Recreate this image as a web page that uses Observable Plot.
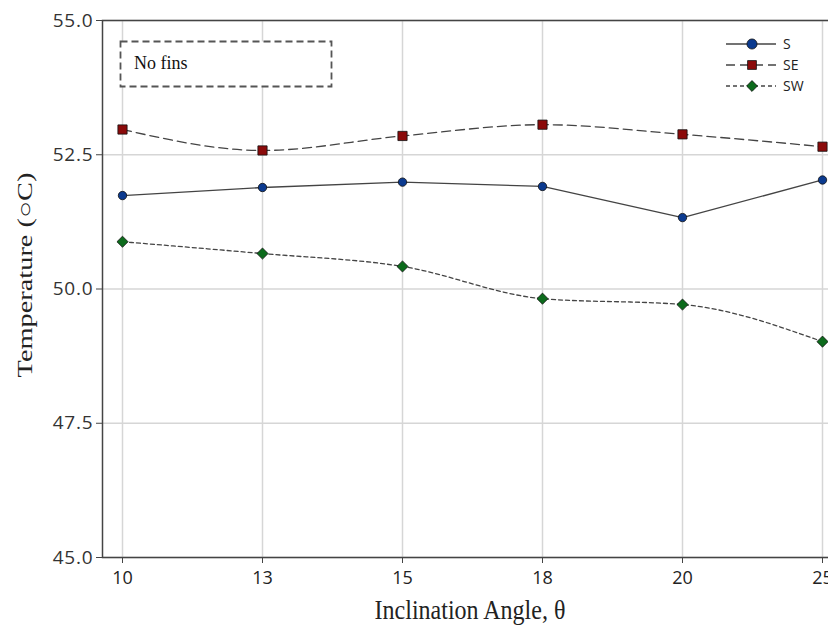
<!DOCTYPE html>
<html>
<head>
<meta charset="utf-8">
<script src="https://cdn.jsdelivr.net/npm/d3@7"></script>
<script src="https://cdn.jsdelivr.net/npm/@observablehq/plot@0.6"></script>
<style>
  body { margin: 0; background: #fff; }
  #wrap { position: relative; width: 828px; height: 630px; overflow: hidden; }
  .ttl { position: absolute; font-family: "Liberation Serif", "DejaVu Serif", serif; color: #222; white-space: nowrap; }
  #nofins { position: absolute; left: 119px; top: 40px; }
  #legend { position: absolute; left: 724px; top: 33px; font-family: "Open Sans", sans-serif; font-size: 14px; color: #222; }
  #legend .row { display: flex; align-items: center; height: 21px; }
  #legend svg { margin-right: 5px; }
  g[aria-label="y-axis tick label"] text { letter-spacing: 0.8px; }
</style>
</head>
<body>
<div id="wrap"></div>
<script>
const angles = ["10", "13", "15", "18", "20", "25"];
const seriesNames = ["S", "SE", "SW"];
const sValues  = [51.74, 51.89, 51.99, 51.91, 51.33, 52.03];
const seValues = [52.97, 52.58, 52.85, 53.06, 52.88, 52.65];
const swValues = [50.88, 50.66, 50.42, 49.82, 49.71, 49.02];
const yTicks = [45, 47.5, 50, 52.5, 55];

const styles = {
  S:  {symbol: "circle",   fill: "#0b3a8f", r: 4.2, dash: null,  curve: "linear"},
  SE: {symbol: "square",   fill: "#8b0a0a", r: 5.2, dash: "9,5", curve: "monotone-x"},
  SW: {symbol: "diamond2", fill: "#0c6b1c", r: 5.0, dash: "4,3", curve: "monotone-x"}
};

const valuesBy = {S: sValues, SE: seValues, SW: swValues};
const data = seriesNames.flatMap(s => angles.map((a, i) => ({series: s, angle: a, value: valuesBy[s][i]})));

const marks = [
  Plot.gridX(angles, {stroke: "#d6d6d6", strokeOpacity: 1, strokeWidth: 1.5}),
  Plot.gridY(yTicks, {stroke: "#d6d6d6", strokeOpacity: 1, strokeWidth: 1.5}),
  Plot.frame({stroke: "#444", strokeWidth: 1.5})
];
for (const s of seriesNames) {
  const st = styles[s];
  const d = data.filter(r => r.series === s);
  marks.push(Plot.line(d, {x: "angle", y: "value", stroke: "#444", strokeWidth: 1.3, curve: st.curve, strokeDasharray: st.dash}));
  marks.push(Plot.dot(d, {x: "angle", y: "value", symbol: () => st.symbol, fill: st.fill, stroke: "#111", strokeWidth: 0.8, r: st.r}));
}
marks.push(Plot.axisY(yTicks, {tickFormat: d3.format(".1f"), tickSize: 6, tickPadding: 3, stroke: "#444", fill: "#333", label: null, fontSize: 19, fontFamily: "Open Sans, sans-serif"}));
marks.push(Plot.axisX(angles, {tickSize: 6, tickPadding: 8, stroke: "#444", fill: "#222", label: null, fontSize: 18, fontFamily: "Open Sans, sans-serif"}));

const chart = Plot.plot({
  width: 828,
  height: 630,
  marginLeft: 102,
  marginTop: 20,
  marginBottom: 73,
  marginRight: -4,
  x: {type: "point", domain: angles, range: [120, 823], padding: 0},
  y: {domain: [45, 55], range: [557, 20]},
  symbol: {type: "identity"},
  style: {background: "#fff", overflow: "hidden"},
  marks
});

const wrap = document.getElementById("wrap");
wrap.appendChild(chart);

const yt = document.createElement("div");
yt.className = "ttl";
yt.textContent = "Temperature (○C)";
yt.style.fontSize = "21px";
yt.style.left = "25px";
yt.style.top = "275px";
yt.style.transform = "translate(-50%, -50%) rotate(-90deg) scaleX(1.35)";
wrap.appendChild(yt);

const xt = document.createElement("div");
xt.className = "ttl";
xt.textContent = "Inclination Angle, θ";
xt.style.fontSize = "24px";
xt.style.left = "470px";
xt.style.top = "611px";
xt.style.transform = "translate(-50%, -50%) scaleY(1.1)";
wrap.appendChild(xt);

const nf = document.createElement("div");
nf.id = "nofins";
nf.innerHTML = `<svg width="216" height="50"><rect x="1.5" y="1.5" width="211" height="45" fill="#fff" stroke="#555" stroke-width="1.8" stroke-dasharray="7,4"/>` +
  `<text x="15" y="29" font-family="Liberation Serif, serif" font-size="18" fill="#111">No fins</text></svg>`;
wrap.appendChild(nf);

const lg = document.createElement("div");
lg.id = "legend";
const symPaths = {
  circle: d3.symbol(d3.symbolCircle, 80)(),
  square: d3.symbol(d3.symbolSquare, 78)(),
  diamond2: d3.symbol(d3.symbolDiamond2, 75)()
};
for (const s of seriesNames) {
  const st = styles[s];
  const row = document.createElement("div");
  row.className = "row";
  row.innerHTML = `<svg width="54" height="18"><line x1="2" x2="52" y1="9" y2="9" stroke="#444" stroke-width="1.3" ${st.dash ? `stroke-dasharray="${st.dash}"` : ""}/>` +
    `<path transform="translate(28,9)" d="${symPaths[st.symbol]}" fill="${st.fill}" stroke="#111" stroke-width="0.8"/></svg><span>${s}</span>`;
  lg.appendChild(row);
}
wrap.appendChild(lg);
</script>
</body>
</html>
